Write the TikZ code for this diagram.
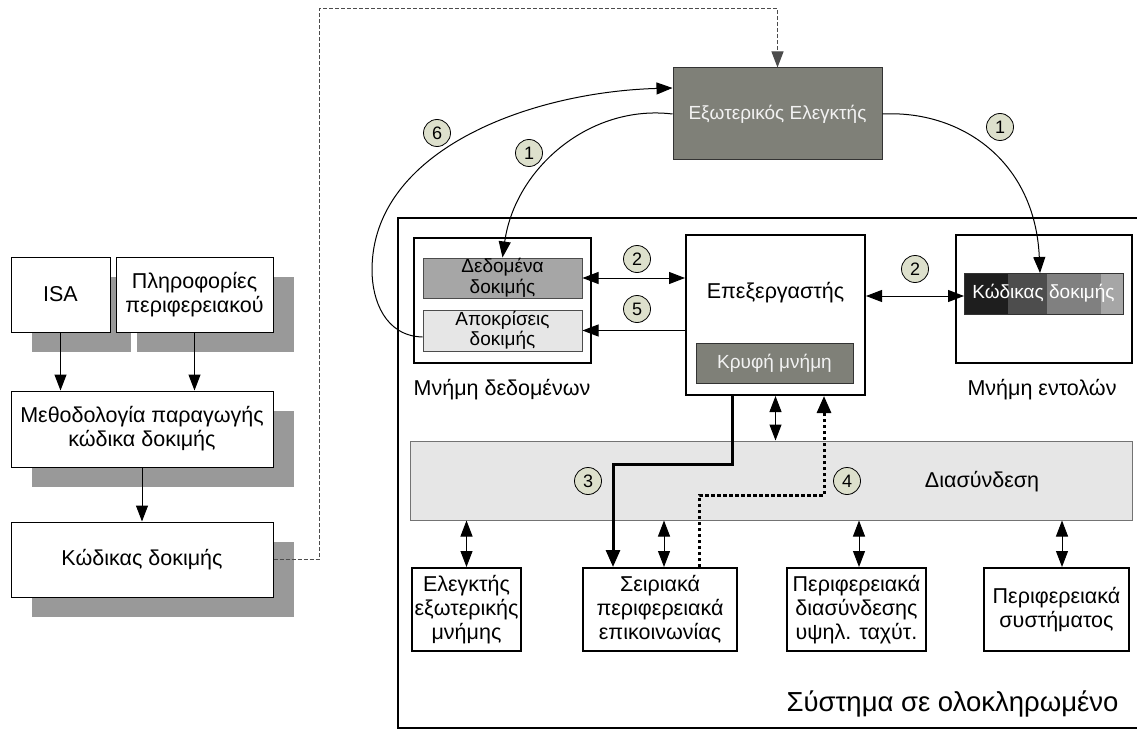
\documentclass[tikz,border=0pt]{standalone}
\usepackage{fontspec}
\setmainfont{Liberation Sans}
\usetikzlibrary{arrows.meta,shadows}
\definecolor{ctrlgray}{RGB}{127,128,120}
\definecolor{tagfill}{RGB}{221,224,204}
\definecolor{busfill}{RGB}{230,230,230}
\definecolor{datafill}{RGB}{166,166,166}
\definecolor{respfill}{RGB}{230,230,230}
\definecolor{shadowgray}{RGB}{153,153,153}
\definecolor{seg1}{RGB}{30,30,30}
\definecolor{seg2}{RGB}{77,77,77}
\definecolor{seg3}{RGB}{128,128,128}
\definecolor{seg4}{RGB}{166,166,166}
\begin{document}
\begin{tikzpicture}[x=1pt,y=-1pt,
  font=\fontsize{21.5}{24}\selectfont,
  >={Triangle[length=16pt,width=12pt]},
  flowbox/.style={draw, fill=white, line width=1pt, align=center, inner sep=0pt,
    drop shadow={shadow xshift=21pt, shadow yshift=-20pt, fill=shadowgray, opacity=1}},
  unitbox/.style={draw, fill=white, line width=2pt, align=center, inner sep=0pt},
  membar/.style={draw=black!70, line width=1pt, align=center, inner sep=0pt,
    font=\fontsize{19}{20.5}\selectfont},
  darkbox/.style={draw=black!80, fill=ctrlgray, line width=1pt, align=center,
    inner sep=0pt, text=black!5, font=\fontsize{19}{22}\selectfont},
  tag/.style={circle, draw, line width=0.8pt, fill=tagfill, minimum size=27pt,
    inner sep=0pt, font=\fontsize{18}{18}\selectfont},
  flow/.style={line width=1pt, ->},
  dflow/.style={line width=1pt, <->},
  thickflow/.style={line width=3pt, -{Triangle[length=17pt,width=14pt]}},
  dotflow/.style={line width=3pt, dash pattern=on 3.5pt off 2.5pt,
    -{Triangle[length=17pt,width=14pt]}},
  linkdash/.style={line width=1pt, draw=black!70, dash pattern=on 4pt off 2pt, ->}
]
\useasboundingbox (0,0) rectangle (1137,730);

% ---------- test-code generation flow (left) ----------
\node[flowbox, minimum width=99pt, minimum height=75pt] (isa) at (60.5,294.5) {ISA};
\node[flowbox, minimum width=157pt, minimum height=75pt] (pinfo) at (194.5,294.5)
  {Πληροφορίες\\περιφερειακού};
\node[flowbox, minimum width=262pt, minimum height=76pt] (method) at (142,429)
  {Μεθοδολογία παραγωγής\\κώδικα δοκιμής};
\node[flowbox, minimum width=262pt, minimum height=75pt] (tcode) at (142,559.5)
  {Κώδικας δοκιμής};

\draw[flow] (isa.south) -- (isa.south |- method.north);
\draw[flow] (pinfo.south) -- (pinfo.south |- method.north);
\draw[flow] (method.south) -- (tcode.north);

% ---------- system on chip frame ----------
\draw[line width=2pt] (1137,218) -| (398,728) -- (1137,728);
\node[anchor=east, font=\fontsize{27.5}{30}\selectfont] (soctitle) at (1122,704)
  {Σύστημα σε ολοκληρωμένο};

% ---------- external tester ----------
\node[darkbox, minimum width=209pt, minimum height=92pt] (ext) at (777.5,114)
  {Εξωτερικός Ελεγκτής};
\coordinate (dtop) at (319,9);
\draw[linkdash] (tcode.east) -| (dtop) -| (ext.north);

% ---------- data memory ----------
\node[unitbox, minimum width=177pt, minimum height=125pt] (dmem) at (502.5,300.5) {};
\node[membar, fill=datafill, minimum width=159pt, minimum height=40pt] (tdata) at (502.5,278)
  {Δεδομένα\\δοκιμής};
\node[membar, fill=respfill, minimum width=159pt, minimum height=41pt] (tresp) at (502.5,330.5)
  {Αποκρίσεις\\δοκιμής};
\node (dmlabel) at (502,390) {Μνήμη δεδομένων};

% ---------- processor ----------
\node[unitbox, minimum width=179pt, minimum height=160pt] (cpu) at (775.5,315) {};
\node (cputext) at ([yshift=22pt]cpu.center) {Επεξεργαστής};
\node[darkbox, minimum width=157pt, minimum height=40pt] (cache) at (774.5,363) {Κρυφή μνήμη};

% ---------- instruction memory ----------
\node[unitbox, minimum width=176pt, minimum height=128pt] (imem) at (1044,299) {};
\fill[seg1] (964,273) rectangle (1008,314);
\fill[seg2] (1008,273) rectangle (1047,314);
\fill[seg3] (1047,273) rectangle (1101,314);
\fill[seg4] (1101,273) rectangle (1123,314);
\node[draw=black!80, line width=0.8pt, minimum width=159pt, minimum height=41pt,
  inner sep=0pt, text=white, font=\fontsize{19}{20}\selectfont] (cbar) at (1043.5,293.5)
  {Κώδικας δοκιμής};
\node (imlabel) at (1042,390) {Μνήμη εντολών};

% ---------- interconnect ----------
\node[draw=black!55, line width=1pt, fill=busfill, minimum width=722pt, minimum height=79pt,
  inner sep=0pt] (bus) at (771,480.5) {};
\node (bustext) at (982,482) {Διασύνδεση};

% ---------- peripherals ----------
\node[unitbox, minimum width=109pt, minimum height=83pt] (emc) at (466.5,609.5)
  {Ελεγκτής\\εξωτερικής\\μνήμης};
\node[unitbox, minimum width=154pt, minimum height=83pt] (ser) at (660,609.5)
  {Σειριακά\\περιφερειακά\\επικοινωνίας};
\node[unitbox, minimum width=139pt, minimum height=83pt] (hsp) at (856.5,609.5)
  {Περιφερειακά\\διασύνδεσης\\υψηλ. ταχύτ.};
\node[unitbox, minimum width=145pt, minimum height=83pt] (sysp) at (1056.5,609.5)
  {Περιφερειακά\\συστήματος};

% ---------- bus connections ----------
\draw[dflow] (cpu.south) -- (cpu.south |- bus.north);
\draw[dflow] (emc.north |- bus.south) -- (emc.north);
\draw[dflow] ([xshift=4pt]ser.north |- bus.south) -- ([xshift=4pt]ser.north);
\draw[dflow] ([xshift=2.5pt]hsp.north |- bus.south) -- ([xshift=2.5pt]hsp.north);
\draw[dflow] ([xshift=5.5pt]sysp.north |- bus.south) -- ([xshift=5.5pt]sysp.north);

% ---------- memory accesses ----------
\draw[dflow] (tdata.east) -- (tdata.east -| cpu.west);
\draw[flow] (tresp.east -| cpu.west) -- (tresp.east);
\coordinate (cbleft) at (964,296);
\draw[dflow] (cpu.east |- cbleft) -- (cbleft);

% ---------- test application steps ----------
\coordinate (cbtop) at (1040,273);
\draw[flow] (ext.west) .. controls (590,104) and (515,168) .. (tdata.north);
\draw[flow] (ext.east) .. controls (960,110) and (1035,160) .. (cbtop);
\coordinate (loopleft) at (372,270);
\draw[flow] ([yshift=-6.5pt]tresp.west) .. controls (385,336) and (372,300) .. (loopleft)
  .. controls (372,150) and (530,92) .. ([yshift=26pt]ext.west);

\coordinate (bend3) at (660,464);
\draw[thickflow] ([xshift=-43.5pt]cpu.south) |- (bend3) -| ([xshift=-47pt]ser.north);
\coordinate (bend4) at (760,495);
\draw[dotflow] ([xshift=39pt]ser.north) |- (bend4) -| ([xshift=48.5pt]cpu.south);

% ---------- step tags ----------
\node[tag] (t6) at (437,133) {6};
\node[tag] (t1a) at (529,153) {1};
\node[tag] (t1b) at (1000,127) {1};
\node[tag] (t2a) at (637,259) {2};
\node[tag] (t5) at (637,309) {5};
\node[tag] (t2b) at (915,269) {2};
\node[tag] (t3) at (588,481) {3};
\node[tag] (t4) at (847,481) {4};
\end{tikzpicture}
\end{document}
